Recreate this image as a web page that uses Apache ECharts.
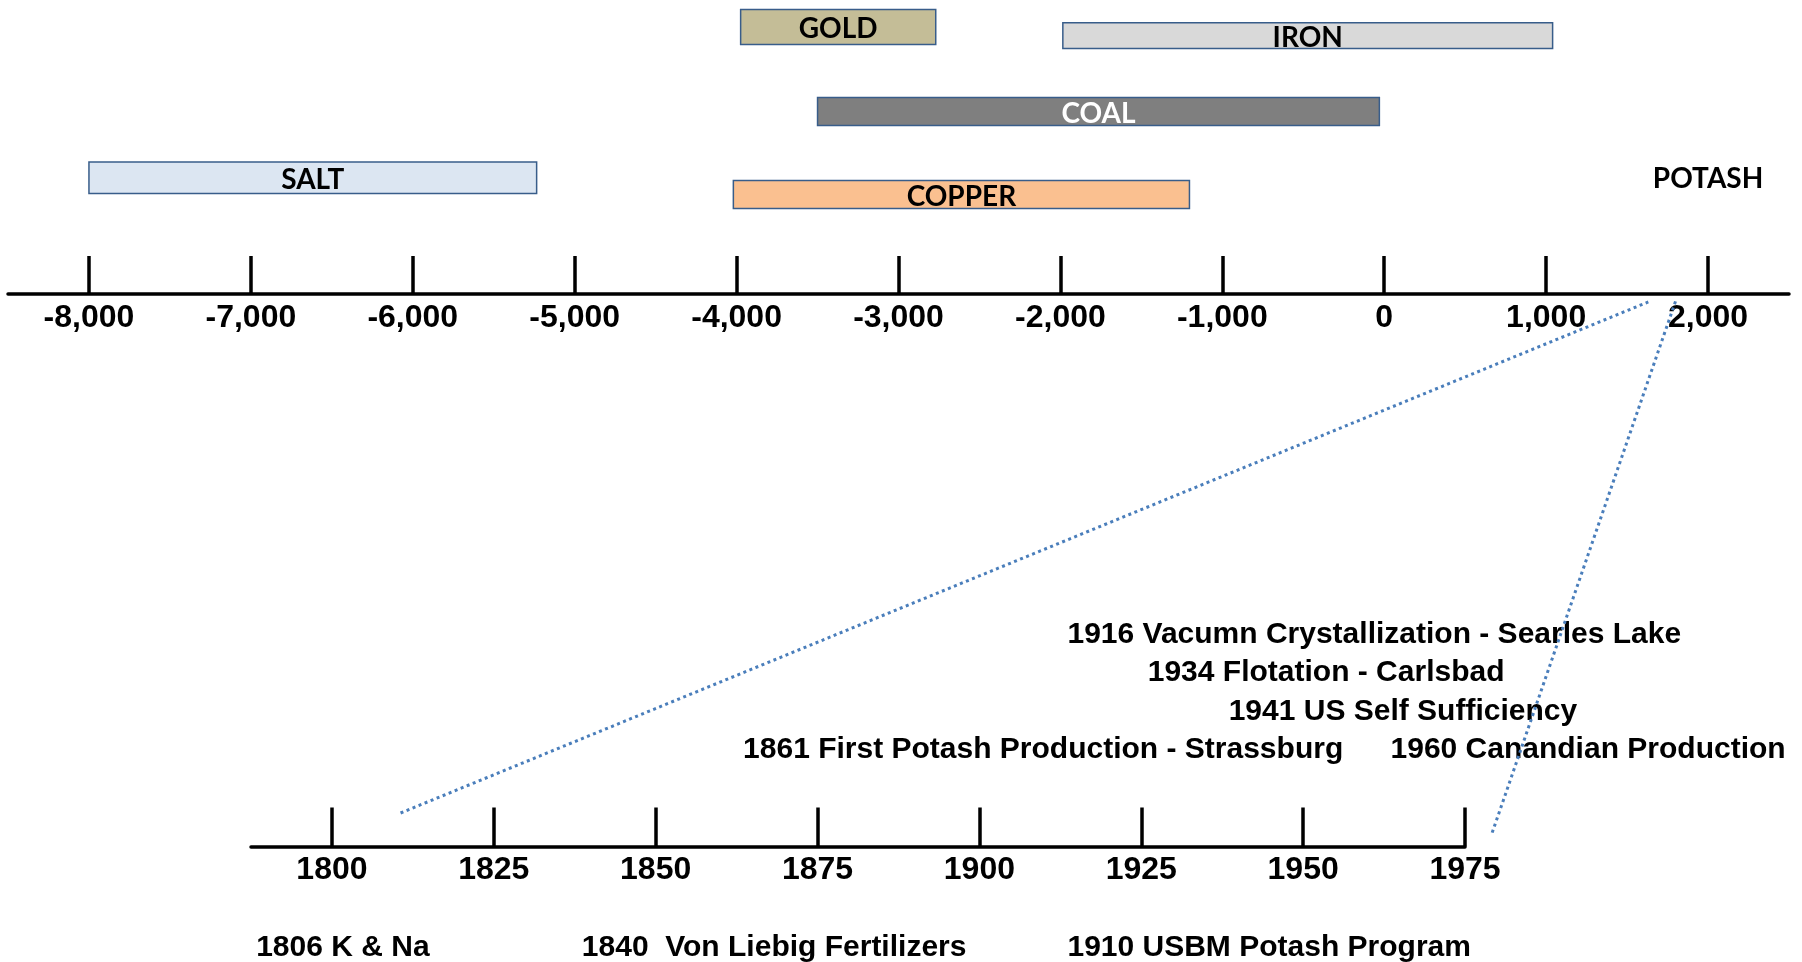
<!DOCTYPE html>
<html>
<head>
<meta charset="utf-8">
<script src="https://cdn.jsdelivr.net/npm/echarts@6/dist/echarts.min.js"></script>
<style>
  html, body { margin: 0; padding: 0; background: #fff; }
  #chart { width: 1802px; height: 962px; }
</style>
</head>
<body>
<div id="chart"></div>
<script>
// top timeline: years BC/AD
const topTicks = [-8000, -7000, -6000, -5000, -4000, -3000, -2000, -1000, 0, 1000, 2000];
const barNames = ["GOLD", "IRON", "COAL", "SALT", "COPPER"];
const barStart = [-3975, -1985, -3500, -8000, -4020];
const barEnd = [-2770, 1040, -30, -5235, -1203];
// vertical extent of each bar, in lane units (0 = axis line)
const barTop = [9.68, 9.23, 6.68, 4.49, 3.86];
const barBottom = [8.49, 8.35, 5.73, 3.42, 2.91];
const potashLabel = "POTASH";
const potashPoint = [2000, 3.92];

// bottom timeline: potash history
const bottomTicks = [1800, 1825, 1850, 1875, 1900, 1925, 1950, 1975];
const eventTexts = [
  "1916 Vacumn Crystallization - Searles Lake",
  "1934 Flotation - Carlsbad",
  "1941 US Self Sufficiency",
  "1861 First Potash Production - Strassburg",
  "1960 Canandian Production",
  "1806 K & Na",
  "1840  Von Liebig Fertilizers",
  "1910 USBM Potash Program",
];
const eventYears = [1913.6, 1926.0, 1938.5, 1863.5, 1963.5, 1788.3, 1838.6, 1913.6];
const eventRows = [5.51, 4.52, 3.51, 2.5, 2.5, -2.64, -2.64, -2.64];

// dotted "zoom" lines: from bottom axis (year, row) to top axis (year, lane)
const zoomFrom = [[1810.6, 0.87], [1979.2, 0.36]];
const zoomTo = [[1631, -0.27], [1804, -0.17]];

const barFill = {
  GOLD: "#c4bd97",
  IRON: "#d9d9d9",
  COAL: "#7f7f7f",
  SALT: "#dce6f2",
  COPPER: "#fac090",
};

const axisFont = "'Liberation Sans', Arial, sans-serif";

const chart = echarts.init(document.getElementById("chart"), null, { renderer: "canvas" });

chart.setOption({
  animation: false,
  backgroundColor: "#ffffff",
  grid: [
    { left: 8, right: 13, top: 0, height: 294, containLabel: false, outerBoundsMode: "none" },
    { left: 251, right: 337, top: 600, bottom: 115.5, containLabel: false, outerBoundsMode: "none" },
  ],
  xAxis: [
    {
      gridIndex: 0,
      type: "value",
      min: -8500,
      max: 2500,
      position: "bottom",
      axisLine: { onZero: false, lineStyle: { color: "#000", width: 3.5 } },
      axisTick: {
        inside: true,
        length: 38,
        customValues: topTicks,
        lineStyle: { color: "#000", width: 3.5 },
      },
      axisLabel: {
        customValues: topTicks,
        margin: 8,
        color: "#000",
        fontFamily: axisFont,
        fontWeight: "bold",
        fontSize: 32,
        formatter: (v) => Number(v).toLocaleString("en-US"),
      },
      splitLine: { show: false },
    },
    {
      gridIndex: 1,
      type: "value",
      min: 1787.5,
      max: 1975,
      position: "bottom",
      axisLine: { onZero: false, lineStyle: { color: "#000", width: 3.5 } },
      axisTick: {
        inside: true,
        length: 39,
        customValues: bottomTicks,
        lineStyle: { color: "#000", width: 3.5 },
      },
      axisLabel: {
        customValues: bottomTicks,
        margin: 8,
        color: "#000",
        fontFamily: axisFont,
        fontWeight: "bold",
        fontSize: 32,
        formatter: (v) => String(v),
      },
      splitLine: { show: false },
    },
  ],
  yAxis: [
    { gridIndex: 0, type: "value", min: 0, max: 10, show: false },
    { gridIndex: 1, type: "value", min: 0, max: 6.4, show: false },
  ],
  series: [
    {
      type: "custom",
      xAxisIndex: 0,
      yAxisIndex: 0,
      encode: { x: [0, 1], y: [2, 3] },
      data: barNames.map((n, i) => [barStart[i], barEnd[i], barTop[i], barBottom[i]]),
      renderItem: (params, api) => {
        const name = barNames[params.dataIndex];
        const p0 = api.coord([api.value(0), api.value(2)]);
        const p1 = api.coord([api.value(1), api.value(3)]);
        return {
          type: "rect",
          shape: { x: p0[0], y: p0[1], width: p1[0] - p0[0], height: p1[1] - p0[1] },
          style: { fill: barFill[name], stroke: "#385d8a", lineWidth: 1.5 },
          textContent: {
            style: {
              text: name,
              fill: name === "COAL" ? "#ffffff" : "#000000",
              fontFamily: "Lato",
              fontWeight: "bold",
              fontSize: 28,
            },
          },
          textConfig: { position: "inside", offset: [0, 2.5] },
        };
      },
    },
    {
      type: "scatter",
      xAxisIndex: 0,
      yAxisIndex: 0,
      symbolSize: 0,
      itemStyle: { opacity: 1 },
      data: [potashPoint],
      label: {
        show: true,
        position: "inside",
        formatter: potashLabel,
        color: "#000",
        textBorderWidth: 0,
        fontFamily: "Lato",
        fontWeight: "bold",
        fontSize: 28,
      },
    },
    {
      type: "scatter",
      xAxisIndex: 1,
      yAxisIndex: 1,
      symbolSize: 0,
      clip: false,
      itemStyle: { opacity: 1 },
      data: eventYears.map((y, i) => [y, eventRows[i]]),
      label: {
        show: true,
        position: "right",
        distance: 0,
        formatter: (p) => eventTexts[p.dataIndex],
        color: "#000",
        fontFamily: axisFont,
        fontWeight: "bold",
        fontSize: 30,
      },
    },
  ],
});

// dotted connector lines between the two timelines
const links = zoomFrom.map((from, i) => {
  const a = chart.convertToPixel({ gridIndex: 1 }, from);
  const b = chart.convertToPixel({ gridIndex: 0 }, zoomTo[i]);
  return {
    type: "line",
    shape: { x1: a[0], y1: a[1], x2: b[0], y2: b[1] },
    style: { stroke: "#4a7ebb", lineWidth: 3, lineDash: [3, 3.5] },
    z: 10,
  };
});
chart.setOption({ graphic: links });

window.addEventListener("resize", () => chart.resize());
</script>
</body>
</html>
